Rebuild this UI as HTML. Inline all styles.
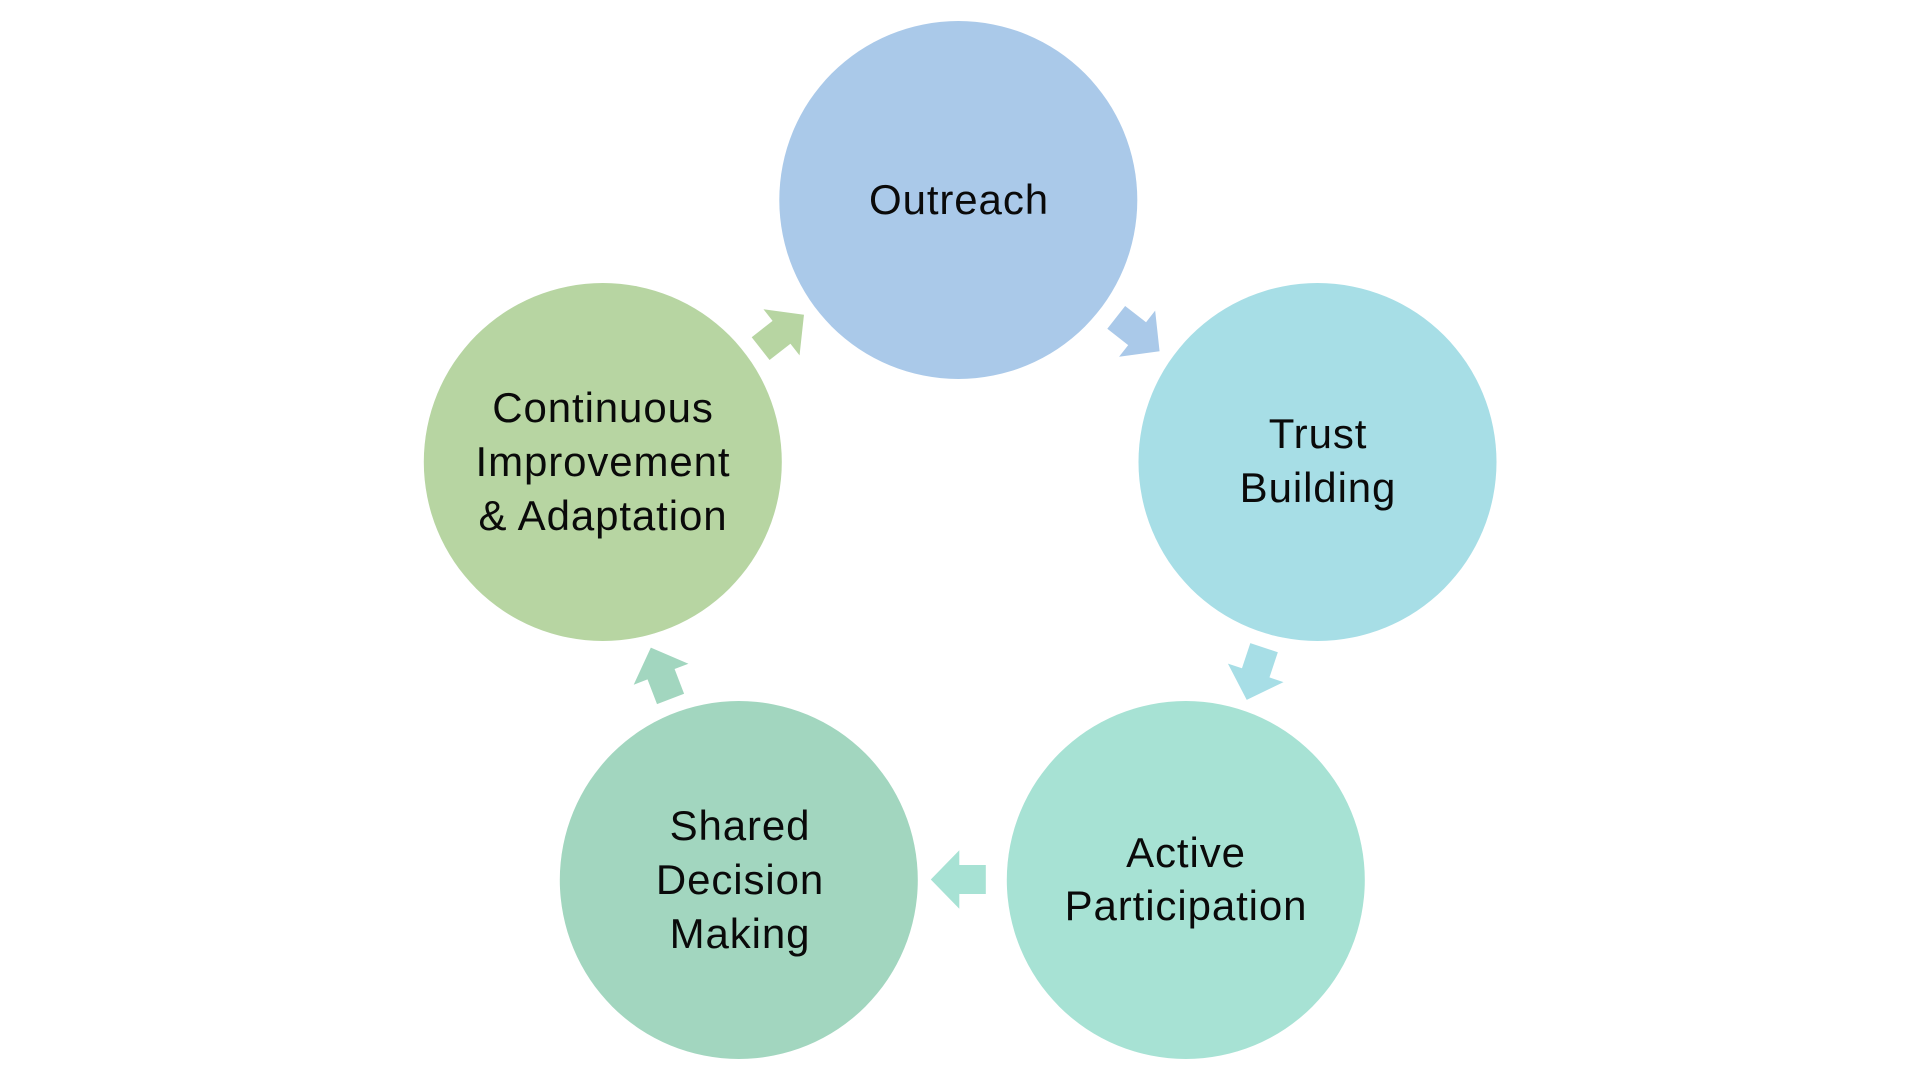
<!DOCTYPE html>
<html>
<head>
<meta charset="utf-8">
<style>
  html, body { margin: 0; padding: 0; background: #ffffff; }
  body { width: 1920px; height: 1080px; overflow: hidden; }
  svg { display: block; }
  text { font-family: "Liberation Sans", "DejaVu Sans", sans-serif; font-size: 42px; fill: #0a0a0a; letter-spacing: 0.9px; }
</style>
</head>
<body>
<svg width="1920" height="1080" viewBox="0 0 1920 1080" xmlns="http://www.w3.org/2000/svg">
  <rect width="1920" height="1080" fill="#ffffff"/>

  <!-- Circles -->
  <circle cx="958.3" cy="200" r="179" fill="#AAC9E9"/>
  <circle cx="1317.5" cy="462" r="179" fill="#A7DEE6"/>
  <circle cx="1185.8" cy="880" r="179" fill="#A7E2D4"/>
  <circle cx="738.8" cy="880" r="179" fill="#A2D6BF"/>
  <circle cx="602.8" cy="462" r="179" fill="#B7D5A2"/>

  <!-- Arrows -->
  <g transform="translate(782.3,331.7) rotate(-38)">
    <polygon points="-27.5,-14.5 -1,-14.5 -1,-29.3 27.5,0 -1,29.3 -1,14.5 -27.5,14.5" fill="#B7D5A2"/>
  </g>
  <g transform="translate(1137.9,334.3) rotate(38)">
    <polygon points="-27.5,-14.5 -1,-14.5 -1,-29.3 27.5,0 -1,29.3 -1,14.5 -27.5,14.5" fill="#AAC9E9"/>
  </g>
  <g transform="translate(1255.4,673.8) rotate(108.4)">
    <polygon points="-27.5,-14.5 -1,-14.5 -1,-29.3 27.5,0 -1,29.3 -1,14.5 -27.5,14.5" fill="#A7DEE6"/>
  </g>
  <g transform="translate(958.3,879.5) rotate(180)">
    <polygon points="-27.5,-14.5 -1,-14.5 -1,-29.3 27.5,0 -1,29.3 -1,14.5 -27.5,14.5" fill="#A7E2D4"/>
  </g>
  <g transform="translate(660.7,673.3) rotate(-111)">
    <polygon points="-27.5,-14.5 -1,-14.5 -1,-29.3 27.5,0 -1,29.3 -1,14.5 -27.5,14.5" fill="#A2D6BF"/>
  </g>

  <!-- Labels -->
  <text x="959" y="214" text-anchor="middle">Outreach</text>

  <text x="1318" y="448" text-anchor="middle">Trust</text>
  <text x="1318" y="502" text-anchor="middle">Building</text>

  <text x="1186" y="867" text-anchor="middle">Active</text>
  <text x="1186" y="920" text-anchor="middle">Participation</text>

  <text x="740" y="840" text-anchor="middle">Shared</text>
  <text x="740" y="894" text-anchor="middle">Decision</text>
  <text x="740" y="948" text-anchor="middle">Making</text>

  <text x="603" y="422" text-anchor="middle">Continuous</text>
  <text x="603" y="476" text-anchor="middle">Improvement</text>
  <text x="603" y="530" text-anchor="middle">&amp; Adaptation</text>
</svg>
</body>
</html>
